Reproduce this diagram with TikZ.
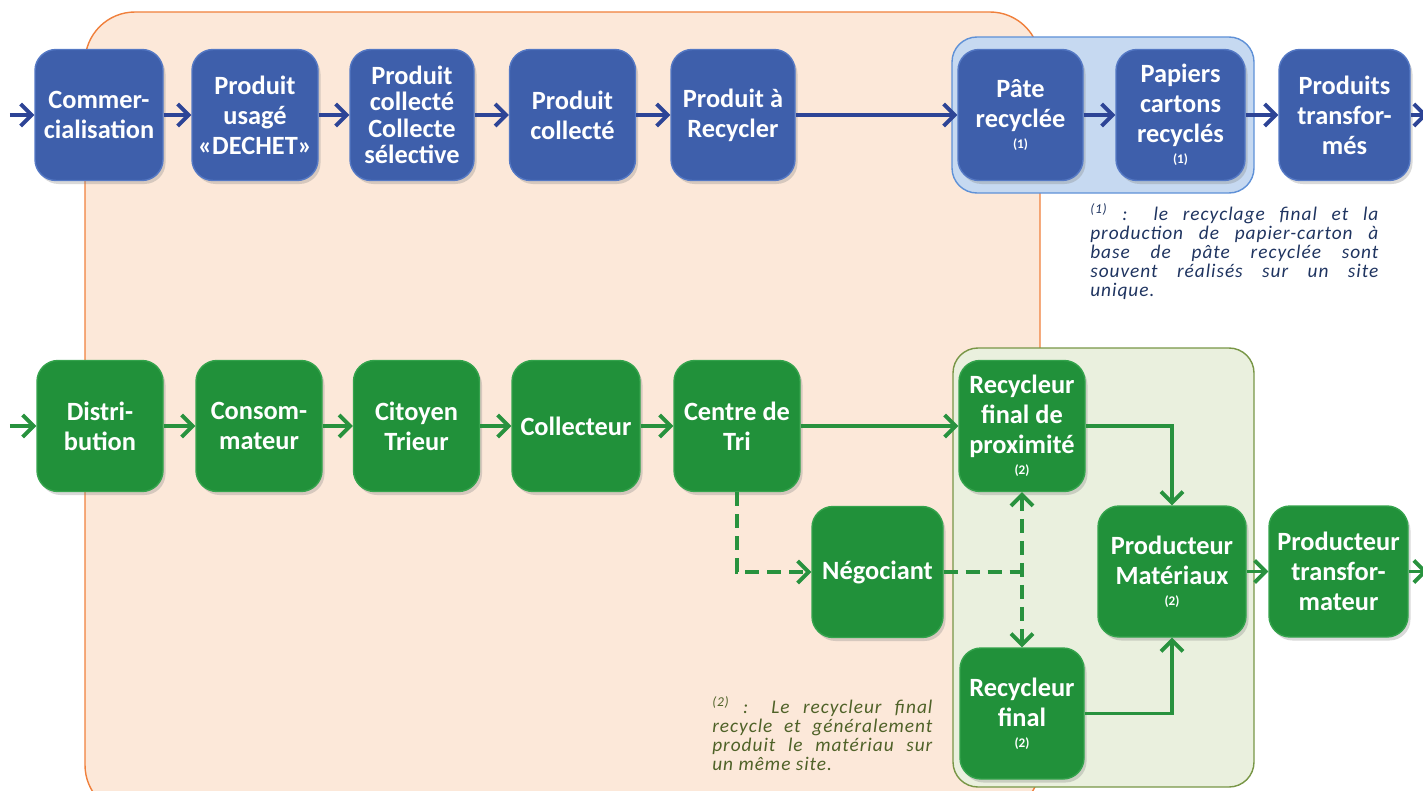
\documentclass[tikz,border=0pt]{standalone}
\usepackage{fontspec}
\setmainfont{Carlito}
\newfontfamily\notefont[LetterSpace=5]{Carlito}
\usetikzlibrary{arrows.meta,shadows}
\hyphenpenalty=10000
\exhyphenpenalty=10000
\definecolor{filiereblue}{RGB}{62,95,171}
\definecolor{filiereblueline}{RGB}{84,120,196}
\definecolor{filieregreen}{RGB}{33,145,58}
\definecolor{filieregreenline}{RGB}{52,163,76}
\definecolor{arrowblue}{RGB}{45,68,150}
\definecolor{arrowgreen}{RGB}{40,146,62}
\definecolor{zonepeach}{RGB}{252,232,217}
\definecolor{zoneorange}{RGB}{240,128,60}
\definecolor{zonelightblue}{RGB}{198,217,241}
\definecolor{zoneblueline}{RGB}{95,145,215}
\definecolor{zonelightgreen}{RGB}{234,240,222}
\definecolor{zonegreenline}{RGB}{120,150,70}
\definecolor{noteblue}{RGB}{31,52,96}
\definecolor{noteolive}{RGB}{79,98,40}
\newcommand{\siteref}[1]{\\[-5pt]{\fontsize{7.5}{8}\selectfont (#1)}}

\begin{document}
\begin{tikzpicture}[
    >={Straight Barb[length=2.2mm,width=4.4mm]},
    flowbox/.style={rounded corners=0.42cm, minimum width=2.52cm, minimum height=2.62cm,
      inner sep=1pt, align=center, text=white, line width=0.8pt,
      font={\fontsize{15}{17}\selectfont\bfseries},
      drop shadow={shadow xshift=0.05cm, shadow yshift=-0.07cm, opacity=0.3}},
    bluebox/.style={flowbox, fill=filiereblue, draw=filiereblueline},
    greenbox/.style={flowbox, fill=filieregreen, draw=filieregreenline},
    bluearrow/.style={draw=arrowblue, line width=2.2pt, ->},
    greenarrow/.style={draw=arrowgreen, line width=2.2pt, ->},
    dashedgreen/.style={draw=arrowgreen, line width=2.2pt, dash pattern=on 0.28cm off 0.16cm},
    notetext/.style={anchor=north west, inner sep=0pt, align=justify,
      font={\notefont\itshape\fontsize{11}{10.9}\selectfont}}
  ]
    \useasboundingbox (0,0) rectangle (28.46,-15.82);
    \clip (0,0) rectangle (28.46,-15.82);

    % zones
    \draw[fill=zonepeach, draw=zoneorange, line width=0.8pt, rounded corners=1cm] (1.70,-0.24) rectangle (20.80,-16.3);
    \draw[fill=zonelightblue, draw=zoneblueline, line width=0.8pt, rounded corners=0.5cm] (19.04,-0.74) rectangle (25.08,-3.86);
    \draw[fill=zonelightgreen, draw=zonegreenline, line width=0.8pt, rounded corners=0.5cm] (19.06,-6.96) rectangle (25.08,-15.74);

    % filiere produit (bleu)
    \node[bluebox, minimum width=2.56cm] (commerce) at (1.98,-2.30) {Commer-\\cialisation};
    \node[bluebox] (usage) at (5.10,-2.30) {Produit\\usagé\\«DECHET»};
    \node[bluebox, minimum width=2.48cm, font={\fontsize{15}{15}\selectfont\bfseries}] (selective) at (8.24,-2.30) {Produit\\collecté\\Collecte\\sélective};
    \node[bluebox] (collecte) at (11.45,-2.30) {Produit\\collecté};
    \node[bluebox, minimum width=2.48cm] (arecycler) at (14.66,-2.30) {Produit à\\Recycler};
    \node[bluebox, minimum width=2.50cm] (pate) at (20.41,-2.30) {Pâte\\recyclée\siteref{1}};
    \node[bluebox, minimum width=2.58cm] (papiers) at (23.61,-2.30) {Papiers\\cartons\\recyclés\siteref{1}};
    \node[bluebox, minimum width=2.62cm] (prodtransf) at (26.89,-2.30) {Produits\\transfor-\\més};

    % filiere acteurs (vert)
    \node[greenbox] (distri) at (2.00,-8.52) {Distri-\\bution};
    \node[greenbox] (consom) at (5.18,-8.52) {Consom-\\mateur};
    \node[greenbox] (citoyen) at (8.33,-8.52) {Citoyen\\Trieur};
    \node[greenbox, minimum width=2.56cm] (collecteur) at (11.52,-8.52) {Collecteur};
    \node[greenbox] (centretri) at (14.74,-8.52) {Centre de\\Tri};
    \node[greenbox] (recprox) at (20.44,-8.52) {Recycleur\\final de\\proximité\siteref{2}};
    \node[greenbox, minimum width=2.62cm] (negociant) at (17.55,-11.44) {Négociant};
    \node[greenbox, minimum width=2.48cm] (recfinal) at (20.44,-14.27) {Recycleur\\final\siteref{2}};
    \node[greenbox, minimum width=2.96cm] (prodmat) at (23.44,-11.43) {Producteur\\Matériaux\siteref{2}};
    \node[greenbox, minimum width=2.78cm] (prodtransfo) at (26.77,-11.43) {Producteur\\transfor-\\mateur};

    \coordinate (bluein) at (0.2,-2.30);
    \coordinate (blueout) at (28.55,-2.30);
    \coordinate (greenin) at (0.2,-8.52);
    \coordinate (greenout) at (28.55,-11.43);

    \draw[bluearrow] (bluein) -- (commerce.west);
    \foreach \a/\b in {commerce/usage, usage/selective, selective/collecte, collecte/arecycler,
                      arecycler/pate, pate/papiers, papiers/prodtransf}
      \draw[bluearrow] (\a.east) -- (\b.west);
    \draw[bluearrow] (prodtransf.east) -- (blueout);

    \draw[greenarrow] (greenin) -- (distri.west);
    \foreach \a/\b in {distri/consom, consom/citoyen, citoyen/collecteur, collecteur/centretri, centretri/recprox}
      \draw[greenarrow] (\a.east) -- (\b.west);
    \draw[greenarrow] (recprox.east) -| (prodmat.north);
    \draw[greenarrow] (recfinal.east) -| (prodmat.south);
    \draw[greenarrow] (prodmat.east) -- (prodtransfo.west);
    \draw[greenarrow] (prodtransfo.east) -- (greenout);
    %\draw[greenarrow] (centretri.south) |- (negociant.west);
    \draw[dashedgreen, ->] (centretri.south) |- (negociant.west);
    \draw[dashedgreen] (negociant.east) -- (negociant.east -| recprox.south);
    \draw[dashedgreen, <->] (recprox.south) -- (recfinal.north);

    % notes
    \node[notetext, text=noteblue, text width=5.76cm] (noteun) at (21.80,-4.06)
      {\textsuperscript{(1)} : le recyclage final et la\linebreak production de papier-carton à\linebreak base de pâte recyclée sont\linebreak souvent réalisés sur un site\linebreak unique.};
    \node[notetext, text=noteolive, text width=4.40cm] (notedeux) at (14.24,-13.92)
      {\textsuperscript{(2)} : Le recycleur final\linebreak recycle et généralement\linebreak produit le matériau sur\linebreak un même site.};
  \end{tikzpicture}
\end{document}
